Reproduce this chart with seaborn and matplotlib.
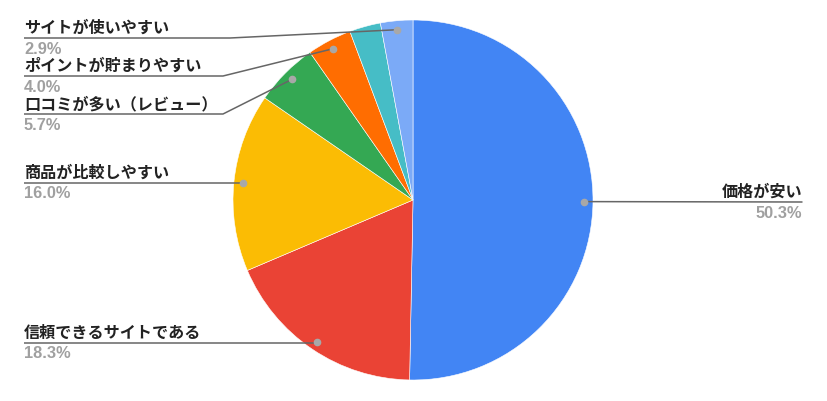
import numpy as np
import matplotlib
matplotlib.use("Agg")
import matplotlib.pyplot as plt
import seaborn as sns

# data (clockwise from 12 o'clock)
labels = ["価格が安い", "信頼できるサイトである", "商品が比較しやすい", "口コミが多い（レビュー）",
          "ポイントが貯まりやすい", "その他", "サイトが使いやすい"]
values = [50.3, 18.3, 16.0, 5.7, 4.0, 2.8, 2.9]
colors = ["#4285f4", "#ea4335", "#fbbc04", "#34a853", "#ff6d01", "#46bdc6", "#7baaf7"]
show_label = [True, True, True, True, True, False, True]

# label layout (pixel rows from top, text side)
label_y = [202, 343, 183, 114, 76, None, 38]
label_side = ["right", "left", "left", "left", "left", None, "left"]
elbow_x = [None, None, None, 223, 223, None, 230]

W, H = 827, 401
sns.set_theme(style="white")
plt.rcParams["font.family"] = ["Noto Sans CJK JP", "DejaVu Sans"]

fig = plt.figure(figsize=(W / 100, H / 100), dpi=100)
ax = fig.add_axes([0, 0, 1, 1])

cx, cy, r = 413, H - 200, 180
wedges, _ = ax.pie(values, colors=colors, startangle=90, counterclock=False,
                   center=(cx, cy), radius=r,
                   wedgeprops=dict(edgecolor="white", linewidth=0.4))
ax.set_xlim(0, W)
ax.set_ylim(0, H)
ax.set_aspect("equal")
ax.axis("off")

line_col = "#666666"
dot_col = "#a8a8a8"
txt_col = "#222222"
pct_col = "#a0a0a0"

for i, w in enumerate(wedges):
    if not show_label[i]:
        continue
    mid = np.deg2rad((w.theta1 + w.theta2) / 2)
    dx = cx + 0.95 * r * np.cos(mid)
    dy = cy + 0.95 * r * np.sin(mid)
    ly = H - label_y[i]
    if label_side[i] == "left":
        x0 = 24
        ex = elbow_x[i] if elbow_x[i] is not None else dx
        ax.plot([x0, ex, dx], [ly, ly, dy], color=line_col, lw=1.1, solid_capstyle="butt", zorder=3)
        ha, tx = "left", x0
    else:
        x1 = 802
        ax.plot([dx, x1], [dy, ly], color=line_col, lw=1.1, zorder=3)
        ha, tx = "right", x1
    ax.plot(dx, dy, "o", ms=4.5, color=dot_col, mec=dot_col, zorder=4)
    ax.text(tx, ly + 10, labels[i], ha=ha, va="center", fontsize=11.6,
            fontweight="bold", color=txt_col)
    ax.text(tx, ly - 11, f"{values[i]:.1f}%", ha=ha, va="center", fontsize=11.8,
            fontweight="bold", color=pct_col, family=["Liberation Sans", "DejaVu Sans"])

fig.savefig("out.png", dpi=100)
